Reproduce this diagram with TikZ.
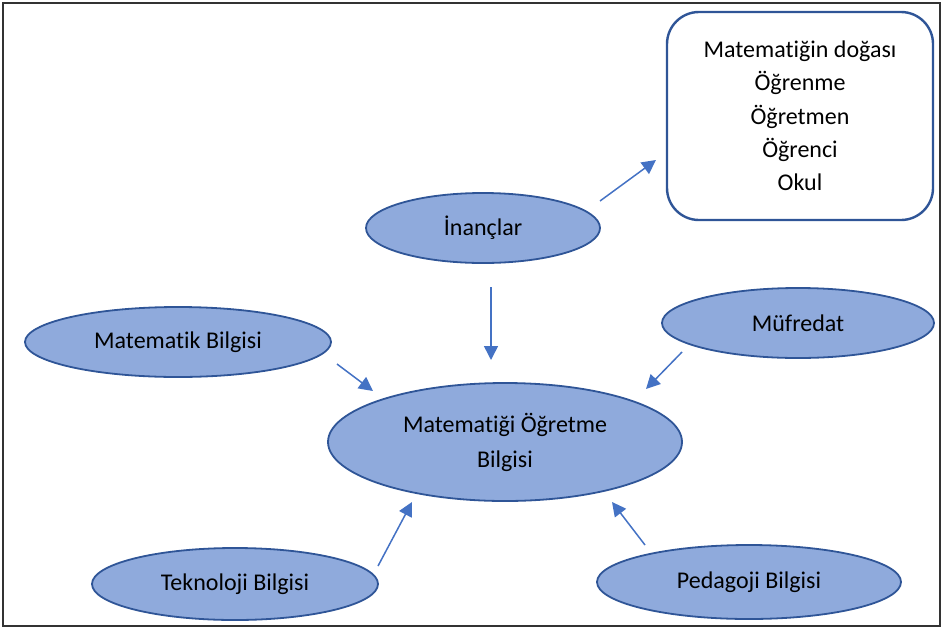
\documentclass[tikz,border=0pt]{standalone}
\usepackage{fontspec}
\setmainfont{Carlito}[Ligatures=NoCommon]
\usetikzlibrary{arrows.meta, shapes.geometric}

\definecolor{bubblefill}{HTML}{8FAADC}
\definecolor{bubbleline}{HTML}{2F5597}
\definecolor{arrowblue}{HTML}{4472C4}

\begin{document}
\begin{tikzpicture}[
    x=1pt, y=-1pt,
    bubble/.style={ellipse, draw=bubbleline, fill=bubblefill, line width=1.8pt, inner sep=0pt, font=\fontsize{24}{35}\selectfont, align=center},
    listbox/.style={rectangle, draw=bubbleline, line width=2.4pt, rounded corners=32pt, minimum width=266pt, minimum height=208pt, font=\fontsize{24}{33.3}\selectfont, align=center},
    link/.style={-{Triangle[length=14pt, width=14pt]}, draw=arrowblue, line width=1.5pt}
]

% Frame
\useasboundingbox (0,0) rectangle (944,632);
\draw[line width=1.2pt, black!80] (3,3) rectangle (940,626);

% Centre
\node[bubble, minimum width=354pt, minimum height=118pt] (mob) at (505,442) {Matematiği Öğretme\\Bilgisi};

% Surrounding ellipses
\node[bubble, minimum width=234pt, minimum height=70pt] (inanc) at (483,228) {İnançlar};
\node[bubble, minimum width=306pt, minimum height=70pt] (matbilgi) at (178,342) {Matematik Bilgisi};
\node[bubble, minimum width=272pt, minimum height=70pt] (mufredat) at (798,323) {Müfredat};
\node[bubble, minimum width=286pt, minimum height=72pt] (tekbilgi) at (235,584) {Teknoloji Bilgisi};
\node[bubble, minimum width=304pt, minimum height=74pt] (pedbilgi) at (749,582) {Pedagoji Bilgisi};

% Beliefs box
\node[listbox] (inanclist) at (800,116) {Matematiğin doğası\\Öğrenme\\Öğretmen\\Öğrenci\\Okul};

% Arrow ends
\coordinate (a1) at (600,201);  \coordinate (b1) at (656,160);
\coordinate (a2) at (491,287);  \coordinate (b2) at (491,360);
\coordinate (a3) at (337,364);  \coordinate (b3) at (373,391);
\coordinate (a4) at (682,352);  \coordinate (b4) at (646,389);
\coordinate (a5) at (378,566);  \coordinate (b5) at (412,502);
\coordinate (a6) at (645,545);  \coordinate (b6) at (612,502);

% Arrows
\draw[link] (a1) -- (b1);
\draw[link] (a2) -- (b2);
\draw[link] (a3) -- (b3);
\draw[link] (a4) -- (b4);
\draw[link] (a5) -- (b5);
\draw[link] (a6) -- (b6);

\end{tikzpicture}
\end{document}
